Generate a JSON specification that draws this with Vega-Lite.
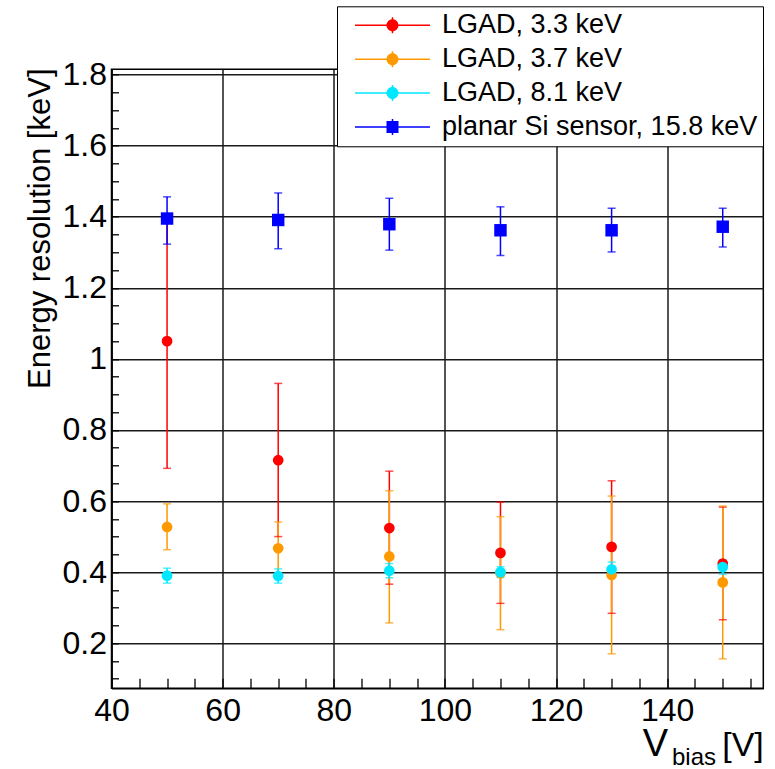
{
  "$schema": "https://vega.github.io/schema/vega-lite/v6.json",
  "autosize": {"type": "none"},
  "width": 651.8,
  "height": 619,
  "padding": {"left": 111.5, "top": 69.3, "right": 11.7, "bottom": 80.7},
  "background": "white",
  "config": {
    "view": {"stroke": "black", "strokeWidth": 1.5},
    "font": "Liberation Sans",
    "axis": {
      "labelFont": "Liberation Sans",
      "titleFont": "Liberation Sans",
      "labelColor": "black",
      "titleColor": "black",
      "titleFontWeight": "normal",
      "gridColor": "#1a1a1a",
      "gridWidth": 1.5,
      "domainColor": "black",
      "domainWidth": 1.5,
      "tickColor": "black",
      "tickWidth": 1.3
    },
    "legend": {
      "orient": "none", "legendX": 225.5, "legendY": -63, "title": null, "fillColor": "white", "strokeColor": "black", "padding": 5.5,
      "labelFont": "Liberation Sans", "labelFontSize": 27, "labelColor": "black", "labelLimit": 600,
      "symbolSize": 400, "symbolOpacity": 1, "symbolStrokeWidth": 0, "symbolOffset": 36.5, "labelOffset": 36, "rowPadding": 5.9
    }
  },
  "data": {
    "values": [
      {"s": "LGAD, 3.3 keV", "v": 50, "y": 1.05, "lo": 0.692, "hi": 1.408},
      {"s": "LGAD, 3.3 keV", "v": 70, "y": 0.715, "lo": 0.5, "hi": 0.931},
      {"s": "LGAD, 3.3 keV", "v": 90, "y": 0.524, "lo": 0.366, "hi": 0.684},
      {"s": "LGAD, 3.3 keV", "v": 110, "y": 0.454, "lo": 0.312, "hi": 0.597},
      {"s": "LGAD, 3.3 keV", "v": 130, "y": 0.471, "lo": 0.284, "hi": 0.657},
      {"s": "LGAD, 3.3 keV", "v": 150, "y": 0.424, "lo": 0.266, "hi": 0.583},
      {"s": "LGAD, 3.7 keV", "v": 50, "y": 0.527, "lo": 0.463, "hi": 0.592},
      {"s": "LGAD, 3.7 keV", "v": 70, "y": 0.467, "lo": 0.393, "hi": 0.541},
      {"s": "LGAD, 3.7 keV", "v": 90, "y": 0.444, "lo": 0.257, "hi": 0.629},
      {"s": "LGAD, 3.7 keV", "v": 110, "y": 0.397, "lo": 0.238, "hi": 0.556},
      {"s": "LGAD, 3.7 keV", "v": 130, "y": 0.392, "lo": 0.17, "hi": 0.614},
      {"s": "LGAD, 3.7 keV", "v": 150, "y": 0.371, "lo": 0.156, "hi": 0.586},
      {"s": "LGAD, 8.1 keV", "v": 50, "y": 0.39, "lo": 0.369, "hi": 0.411},
      {"s": "LGAD, 8.1 keV", "v": 70, "y": 0.389, "lo": 0.369, "hi": 0.409},
      {"s": "LGAD, 8.1 keV", "v": 90, "y": 0.404, "lo": 0.384, "hi": 0.424},
      {"s": "LGAD, 8.1 keV", "v": 110, "y": 0.4, "lo": 0.385, "hi": 0.415},
      {"s": "LGAD, 8.1 keV", "v": 130, "y": 0.408, "lo": 0.388, "hi": 0.428},
      {"s": "LGAD, 8.1 keV", "v": 150, "y": 0.414, "lo": 0.394, "hi": 0.434},
      {"s": "planar Si sensor, 15.8 keV", "v": 50, "y": 1.395, "lo": 1.323, "hi": 1.456},
      {"s": "planar Si sensor, 15.8 keV", "v": 70, "y": 1.391, "lo": 1.31, "hi": 1.467},
      {"s": "planar Si sensor, 15.8 keV", "v": 90, "y": 1.379, "lo": 1.306, "hi": 1.452},
      {"s": "planar Si sensor, 15.8 keV", "v": 110, "y": 1.362, "lo": 1.291, "hi": 1.428},
      {"s": "planar Si sensor, 15.8 keV", "v": 130, "y": 1.362, "lo": 1.301, "hi": 1.424},
      {"s": "planar Si sensor, 15.8 keV", "v": 150, "y": 1.372, "lo": 1.315, "hi": 1.424}
    ]
  },
  "resolve": {"axis": {"x": "independent", "y": "independent"}},
  "layer": [
    {
      "mark": {"type": "rule", "strokeWidth": 1.5},
      "encoding": {
        "x": {"field": "v", "type": "quantitative",
          "scale": {"domain": [40, 157.3], "nice": false, "zero": false},
          "axis": {"orient": "bottom", "values": [40, 60, 80, 100, 120, 140], "ticks": false, "labelFontSize": 32, "labelPadding": 7, "labelFlush": false, "grid": true, "domain": true,
            "title": "[V]", "titleFontSize": 34, "titleAlign": "right", "titleBaseline": "alphabetic", "titleX": 651.8, "titleY": 67, "titleAnchor": null}},
        "y": {"field": "lo", "type": "quantitative",
          "scale": {"domain": [0.073, 1.815], "nice": false, "zero": false},
          "axis": {"orient": "left", "values": [0.2, 0.4, 0.6, 0.8, 1, 1.2, 1.4, 1.6, 1.8], "format": "~g", "ticks": false, "labelFontSize": 32, "labelPadding": 5, "labelFlush": false, "grid": true, "domain": true,
            "title": "Energy resolution [keV]", "titleFontSize": 31, "titleAngle": -90, "titleAlign": "right", "titleBaseline": "alphabetic", "titleX": -62, "titleY": -1.3, "titleAnchor": null}},
        "y2": {"field": "hi"},
        "color": {"field": "s", "type": "nominal",
          "scale": {"range": ["#ff0000", "#ff9900", "#00e8ff", "#0000ff"]},
          "legend": null}
      }
    },
    {
      "mark": {"type": "tick", "orient": "horizontal", "size": 8, "thickness": 1.5},
      "encoding": {
        "x": {"field": "v", "type": "quantitative",
          "axis": {"orient": "bottom", "values": [40, 45, 50, 55, 60, 65, 70, 75, 80, 85, 90, 95, 100, 105, 110, 115, 120, 125, 130, 135, 140, 145, 150, 155], "ticks": true, "tickSize": -10, "labels": false, "grid": false, "domain": false,
            "title": "V", "titleFontSize": 38, "titleAlign": "right", "titleBaseline": "alphabetic", "titleX": 556, "titleY": 67, "titleAnchor": null}},
        "y": {"field": "lo", "type": "quantitative",
          "axis": {"orient": "left", "values": [0.1, 0.15, 0.2, 0.25, 0.3, 0.35, 0.4, 0.45, 0.5, 0.55, 0.6, 0.65, 0.7, 0.75, 0.8, 0.85, 0.9, 0.95, 1, 1.05, 1.1, 1.15, 1.2, 1.25, 1.3, 1.35, 1.4, 1.45, 1.5, 1.55, 1.6, 1.65, 1.7, 1.75, 1.8], "ticks": true, "tickSize": -7, "labels": false, "grid": false, "domain": false, "title": null}},
        "color": {"field": "s", "type": "nominal", "legend": null}
      }
    },
    {
      "mark": {"type": "tick", "orient": "horizontal", "size": 8, "thickness": 1.5},
      "encoding": {
        "x": {"field": "v", "type": "quantitative",
          "axis": {"orient": "bottom", "ticks": false, "labels": false, "grid": false, "domain": false,
            "title": "bias", "titleFontSize": 24, "titleAlign": "left", "titleBaseline": "alphabetic", "titleX": 560, "titleY": 76, "titleAnchor": null}},
        "y": {"field": "hi", "type": "quantitative", "axis": null},
        "color": {"field": "s", "type": "nominal", "legend": null}
      }
    },
    {
      "transform": [{"filter": "datum.s !== 'planar Si sensor, 15.8 keV'"}],
      "mark": {"type": "point", "shape": "circle", "filled": true, "opacity": 1, "size": 115},
      "encoding": {
        "x": {"field": "v", "type": "quantitative", "axis": null},
        "y": {"field": "y", "type": "quantitative", "axis": null},
        "color": {"field": "s", "type": "nominal", "legend": null}
      }
    },
    {
      "transform": [{"filter": "datum.s === 'planar Si sensor, 15.8 keV'"}],
      "mark": {"type": "point", "shape": "square", "filled": true, "opacity": 1, "size": 155},
      "encoding": {
        "x": {"field": "v", "type": "quantitative", "axis": null},
        "y": {"field": "y", "type": "quantitative", "axis": null},
        "color": {"field": "s", "type": "nominal", "legend": null}
      }
    },
    {
      "mark": {"type": "point", "filled": true, "opacity": 0, "size": 400},
      "encoding": {
        "x": {"field": "v", "type": "quantitative", "axis": null},
        "y": {"field": "y", "type": "quantitative", "axis": null},
        "fill": {"field": "s", "type": "nominal",
          "scale": {"domain": ["LGAD, 3.3 keV", "LGAD, 3.7 keV", "LGAD, 8.1 keV", "planar Si sensor, 15.8 keV"], "range": ["#ff0000", "#ff9900", "#00e8ff", "#0000ff"]},
          "legend": {"orient": "none", "legendX": 225.5, "legendY": -63, "title": null, "symbolOpacity": 1}},
        "shape": {"field": "s", "type": "nominal",
          "scale": {"domain": ["LGAD, 3.3 keV", "LGAD, 3.7 keV", "LGAD, 8.1 keV", "planar Si sensor, 15.8 keV"],
            "range": [
              "M-3.75,-0.075L3.75,-0.075L3.75,0.075L-3.75,0.075ZM-0.075,-0.8L0.075,-0.8L0.075,0.8L-0.075,0.8ZM0.6,0A0.6,0.6,0,1,1,-0.6,0A0.6,0.6,0,1,1,0.6,0Z",
              "M-3.75,-0.075L3.75,-0.075L3.75,0.075L-3.75,0.075ZM-0.075,-0.8L0.075,-0.8L0.075,0.8L-0.075,0.8ZM0.6,0A0.6,0.6,0,1,1,-0.6,0A0.6,0.6,0,1,1,0.6,0Z",
              "M-3.75,-0.075L3.75,-0.075L3.75,0.075L-3.75,0.075ZM-0.075,-0.8L0.075,-0.8L0.075,0.8L-0.075,0.8ZM0.6,0A0.6,0.6,0,1,1,-0.6,0A0.6,0.6,0,1,1,0.6,0Z",
              "M-3.75,-0.075L3.75,-0.075L3.75,0.075L-3.75,0.075ZM-0.075,-0.8L0.075,-0.8L0.075,0.8L-0.075,0.8ZM-0.6,-0.6L0.6,-0.6L0.6,0.6L-0.6,0.6Z"
            ]},
          "legend": {"orient": "none", "legendX": 225.5, "legendY": -63, "title": null, "symbolOpacity": 1}}
      }
    }
  ]
}
